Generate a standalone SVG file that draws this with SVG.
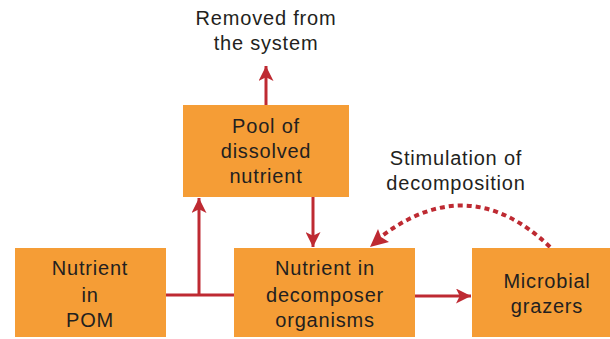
<svg xmlns="http://www.w3.org/2000/svg" width="610" height="339" viewBox="0 0 610 339">
<defs>
<style>
.box{fill:#F59D36;}
.t{font-family:"Liberation Sans",Arial,sans-serif;font-size:20px;letter-spacing:0.8px;fill:#231F20;text-anchor:middle;}
.ln{stroke:#BE2A32;stroke-width:3;fill:none;}
.dot{stroke:#BE2A32;stroke-width:4;fill:none;stroke-dasharray:5,4;}
</style>
<marker id="ah" viewBox="0 0 10 10" refX="10" refY="5" markerWidth="5" markerHeight="5" markerUnits="strokeWidth" orient="auto">
<path d="M0,0 L10,5 L0,10 L2.5,5 Z" fill="#BE2A32"/>
</marker>
</defs>
<rect width="610" height="339" fill="#fff"/>
<g id="connectors">
<path class="ln" d="M166,295 H234"/>
<path class="ln" d="M199,295 V198" marker-end="url(#ah)"/>
<path class="ln" d="M313,197 V247" marker-end="url(#ah)"/>
<path class="ln" d="M266,105 V66" marker-end="url(#ah)"/>
<path class="ln" d="M415,296 H471" marker-end="url(#ah)"/>
<path class="dot" d="M550,247 Q470,170 382,236"/>
<path d="M370,247 L378,229 L381,237 L389,242 Z" fill="#BE2A32"/>
</g>
<g id="removed">
<text class="t" x="266" y="25">Removed from</text>
<text class="t" x="266" y="50">the system</text>
</g>
<g id="stimulation">
<text class="t" x="456" y="165">Stimulation of</text>
<text class="t" x="456" y="190">decomposition</text>
</g>
<g id="pool">
<rect class="box" x="183" y="105" width="166" height="92"/>
<text class="t" x="266" y="133">Pool of</text>
<text class="t" x="266" y="158">dissolved</text>
<text class="t" x="266" y="183">nutrient</text>
</g>
<g id="pom">
<rect class="box" x="15" y="248" width="151" height="89"/>
<text class="t" x="90" y="275">Nutrient</text>
<text class="t" x="90" y="302">in</text>
<text class="t" x="90" y="327">POM</text>
</g>
<g id="decomposer">
<rect class="box" x="234" y="248" width="181" height="89"/>
<text class="t" x="325" y="275">Nutrient in</text>
<text class="t" x="325" y="302">decomposer</text>
<text class="t" x="325" y="327">organisms</text>
</g>
<g id="grazers">
<rect class="box" x="472" y="248" width="138" height="89"/>
<text class="t" x="547" y="288">Microbial</text>
<text class="t" x="547" y="313">grazers</text>
</g>
</svg>
